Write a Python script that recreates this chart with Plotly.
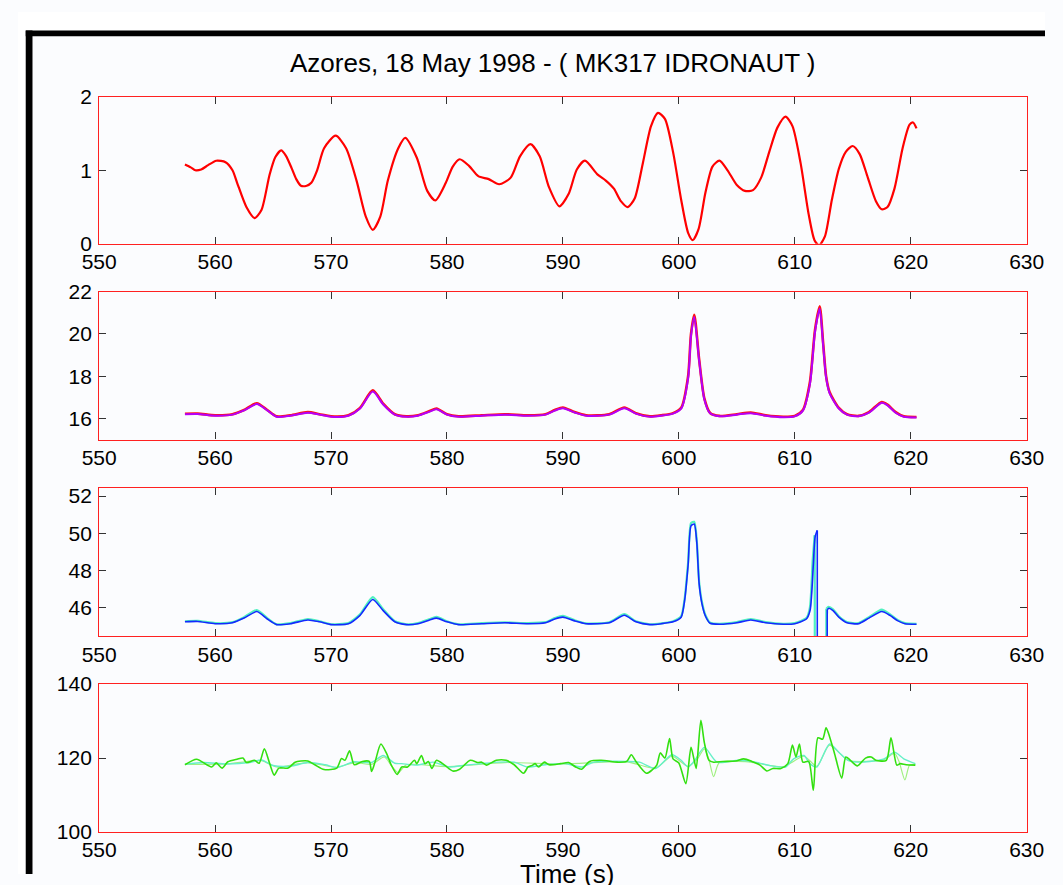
import plotly.graph_objects as go

W, H = 1063, 885

# ---------------- data ----------------
X_TICKS = [550, 560, 570, 580, 590, 600, 610, 620, 630]
TITLE = "Azores, 18 May 1998 - ( MK317 IDRONAUT )"
XLABEL = "Time (s)"

# panel 1 (red)
t1 = [557.4, 557.9, 558.3, 558.8, 559.4, 560.1, 560.9, 561.5, 561.9, 562.7, 563.4, 564.0, 564.7, 565.2,
      565.7, 566.1, 566.6, 567.0, 567.4, 567.9, 568.3, 568.8, 569.4, 570.4, 571.3, 572.2, 573.0, 573.6,
      574.25, 574.9, 575.8, 576.4, 577.4, 578.3, 579.0, 579.9, 580.5, 581.1, 581.9, 582.7, 583.6, 584.5,
      585.5, 586.3, 587.2, 588.0, 588.8, 589.7, 590.5, 591.2, 591.9, 593.0, 593.7, 594.4, 595.0, 595.6,
      596.2, 596.9, 597.6, 598.2, 598.8, 599.5, 600.2, 600.8, 601.2, 601.7, 602.3, 602.9, 603.5, 604.2,
      605.0, 605.7, 606.4, 607.1, 607.8, 608.5, 609.2, 609.8, 610.5, 611.2, 611.7, 612.1, 612.6, 613.2,
      613.8, 614.4, 615.0, 615.6, 616.3, 617.0, 617.5, 618.0, 618.6, 619.3, 619.9, 620.2, 620.5]
v1 = [1.08, 1.04, 1.00, 1.01, 1.07, 1.13, 1.11, 1.00, 0.83, 0.50, 0.35, 0.46, 0.94, 1.18,
      1.27, 1.20, 1.03, 0.88, 0.79, 0.79, 0.83, 1.00, 1.30, 1.47, 1.30, 0.86, 0.37, 0.19,
      0.37, 0.86, 1.30, 1.44, 1.17, 0.72, 0.59, 0.83, 1.05, 1.15, 1.06, 0.92, 0.88, 0.81,
      0.90, 1.19, 1.355, 1.19, 0.77, 0.51, 0.68, 1.01, 1.13, 0.94, 0.86, 0.75, 0.58, 0.50,
      0.62, 1.10, 1.60, 1.78, 1.70, 1.25, 0.60, 0.15, 0.05, 0.20, 0.70, 1.05, 1.13, 1.00,
      0.80, 0.72, 0.73, 0.90, 1.25, 1.58, 1.73, 1.60, 1.10, 0.40, 0.05, -0.02, 0.10, 0.60,
      1.02, 1.25, 1.33, 1.22, 0.90, 0.58, 0.47, 0.50, 0.75, 1.30, 1.62, 1.65, 1.57]

# panel 2 (red + magenta)
t2 = [557.4, 558.5, 560.0, 561.5, 562.5, 563.6, 564.5, 565.3, 566.5, 568.0, 569.0, 570.0, 571.5, 572.5,
      573.6, 574.5, 575.5, 576.5, 577.5, 578.5, 579.1, 580.0, 581.0, 583.0, 585.0, 587.0, 588.5, 589.3,
      590.0, 591.0, 592.0, 594.0, 595.3, 596.3, 597.5, 598.5, 599.5, 600.2, 600.8, 601.05, 601.33, 601.75,
      602.2, 602.7, 603.5, 605.0, 606.2, 607.5, 609.0, 610.0, 610.7, 611.3, 611.75, 612.15, 612.45, 612.7,
      613.0, 613.8, 614.5, 615.5, 616.4, 617.5, 618.0, 618.7, 619.4, 620.5]
v2a = [16.22, 16.23, 16.15, 16.20, 16.40, 16.72, 16.40, 16.10, 16.15, 16.30, 16.20, 16.10, 16.15, 16.50,
       17.33, 16.70, 16.20, 16.10, 16.15, 16.35, 16.47, 16.20, 16.10, 16.15, 16.20, 16.15, 16.20, 16.40,
       16.52, 16.30, 16.15, 16.20, 16.52, 16.25, 16.10, 16.15, 16.25, 16.50, 18.00, 20.00, 20.90, 18.80,
       16.95, 16.26, 16.12, 16.20, 16.28, 16.15, 16.08, 16.12, 16.40, 17.70, 20.20, 21.30, 19.55, 18.00,
       17.25, 16.50, 16.20, 16.12, 16.30, 16.78, 16.65, 16.30, 16.10, 16.07]
v2b = [16.20, 16.21, 16.13, 16.18, 16.38, 16.68, 16.38, 16.08, 16.13, 16.27, 16.18, 16.08, 16.13, 16.47,
       17.27, 16.66, 16.18, 16.08, 16.13, 16.32, 16.43, 16.18, 16.08, 16.13, 16.18, 16.13, 16.18, 16.37,
       16.48, 16.28, 16.13, 16.18, 16.48, 16.23, 16.08, 16.13, 16.23, 16.46, 17.90, 19.90, 20.80, 18.75,
       16.90, 16.24, 16.10, 16.18, 16.25, 16.13, 16.06, 16.10, 16.37, 17.60, 20.10, 21.20, 19.45, 17.95,
       17.20, 16.47, 16.18, 16.10, 16.27, 16.74, 16.62, 16.27, 16.08, 16.05]

# panel 3 (blue + aquamarine); None separates the sensor dropout near 612 s
t3a = [557.4, 558.5, 560.0, 561.5, 562.5, 563.6, 564.5, 565.3, 566.5, 568.0, 569.0, 570.0, 571.5, 572.5,
       573.6, 574.5, 575.5, 576.5, 577.5, 578.5, 579.1, 580.0, 581.0, 583.0, 585.0, 587.0, 588.5, 589.3,
       590.0, 591.0, 592.0, 594.0, 595.3, 596.3, 597.5, 598.5, 599.5, 600.2, 600.5, 600.8, 601.05, 601.33,
       601.55, 601.75, 602.0, 602.3, 602.7, 603.5, 605.0, 606.2, 607.5, 609.0, 610.0, 611.0, 611.33, 611.6,
       611.75, 611.94, None, 611.94, 611.95, None, 612.78, 612.8, None, 612.8, 612.95, 613.3, 613.8,
       614.5, 615.5, 616.4, 617.5, 618.2, 618.9, 619.5, 620.5]
v3a = [45.25, 45.27, 45.15, 45.20, 45.45, 45.80, 45.40, 45.10, 45.15, 45.35, 45.25, 45.10, 45.15, 45.60,
       46.45, 45.85, 45.25, 45.10, 45.15, 45.35, 45.45, 45.25, 45.10, 45.15, 45.20, 45.15, 45.20, 45.40,
       45.50, 45.30, 45.15, 45.20, 45.60, 45.25, 45.10, 45.15, 45.25, 45.50, 46.40, 48.30, 50.40, 50.50,
       49.50, 47.30, 46.20, 45.55, 45.17, 45.12, 45.20, 45.35, 45.20, 45.12, 45.15, 45.40, 45.90, 48.30,
       49.80, 50.16, None, 50.16, 30.00, None, 30.00, 45.90, None, 45.90, 45.98, 45.85, 45.50,
       45.20, 45.15, 45.45, 45.80, 45.60, 45.30, 45.15, 45.12]
t3b = [557.4, 558.5, 560.0, 561.5, 562.5, 563.6, 564.5, 565.3, 566.5, 568.0, 569.0, 570.0, 571.5, 572.5,
       573.6, 574.5, 575.5, 576.5, 577.5, 578.5, 579.1, 580.0, 581.0, 583.0, 585.0, 587.0, 588.5, 589.3,
       590.0, 591.0, 592.0, 594.0, 595.3, 596.3, 597.5, 598.5, 599.5, 600.2, 600.5, 600.8, 601.05, 601.33,
       601.55, 601.75, 602.0, 602.3, 602.7, 603.5, 605.0, 606.2, 607.5, 609.0, 610.0, 611.0, 611.3, 611.55,
       611.72, None, 611.72, 611.74, None, 612.68, 612.72, None, 612.72, 612.92, 613.3, 613.8,
       614.5, 615.5, 616.4, 617.5, 618.2, 618.9, 619.5, 620.5]
v3b = [45.28, 45.30, 45.18, 45.23, 45.50, 45.88, 45.45, 45.12, 45.18, 45.40, 45.28, 45.12, 45.18, 45.65,
       46.58, 45.92, 45.28, 45.12, 45.18, 45.40, 45.52, 45.28, 45.12, 45.18, 45.22, 45.18, 45.23, 45.45,
       45.57, 45.34, 45.17, 45.23, 45.66, 45.28, 45.12, 45.17, 45.28, 45.55, 46.50, 48.45, 50.55, 50.62,
       49.60, 47.40, 46.30, 45.60, 45.20, 45.14, 45.23, 45.40, 45.23, 45.14, 45.18, 45.45, 46.00, 48.60,
       49.90, None, 49.90, 30.00, None, 30.00, 45.95, None, 45.95, 46.05, 45.92, 45.55,
       45.24, 45.18, 45.50, 45.90, 45.66, 45.34, 45.18, 45.14]

# panel 4 (green family)
t4g = [557.4, 558.4, 559.7, 560.1, 560.6, 561.1, 561.9, 562.4, 562.7, 563.4, 563.8, 564.25, 564.7, 565.1,
       565.5, 566.3, 566.9, 567.4, 568.0, 568.6, 569.4, 570.5, 570.9, 571.2, 571.6, 572.0, 572.7, 573.3,
       573.5, 573.8, 574.3, 574.8, 575.2, 575.7, 576.1, 576.6, 577.2, 577.4, 577.8, 578.1, 578.4, 578.7,
       579.1, 579.8, 580.5, 581.1, 582.0, 582.7, 583.0, 583.4, 584.25, 585.1, 585.8, 586.6, 587.0, 587.4,
       587.6, 587.9, 588.4, 588.8, 589.8, 590.5, 591.1, 591.6, 592.3, 593.3, 594.7, 595.5, 595.9, 596.3,
       597.2, 597.7, 598.1, 598.4, 598.8, 599.2, 599.5, 600.0, 600.6, 601.05, 601.3, 601.5, 601.9, 602.2,
       602.6, 603.0, 603.8, 604.9, 605.6, 606.3, 607.0, 607.6, 608.1, 608.8, 609.4, 609.8, 610.1, 610.4,
       610.7, 611.2, 611.6, 612.0, 612.4, 612.7, 612.9, 613.4, 614.05, 614.4, 614.8, 615.4, 616.1, 616.6,
       617.0, 617.9, 618.3, 618.8, 619.1, 619.6, 620.4]
v4g = [118.2, 119.7, 117.6, 118.7, 117.3, 119.0, 119.7, 120.0, 118.8, 119.4, 118.6, 122.5, 118.6, 115.4,
       117.3, 117.3, 118.9, 119.2, 119.2, 118.2, 116.9, 117.3, 119.9, 119.4, 122.0, 118.2, 119.1, 119.1,
       116.4, 119.0, 123.8, 121.2, 118.1, 115.6, 117.6, 117.6, 119.4, 118.5, 120.7, 118.5, 119.1, 117.2,
       119.4, 118.1, 116.5, 117.0, 119.4, 118.8, 118.9, 118.1, 119.4, 119.4, 118.2, 115.9, 117.6, 118.1,
       118.5, 117.6, 118.9, 118.2, 118.5, 118.8, 117.6, 117.0, 119.1, 119.4, 118.9, 119.1, 120.9, 119.1,
       115.9, 116.8, 118.1, 121.4, 120.0, 125.3, 119.8, 118.7, 113.1, 122.9, 119.8, 117.2, 130.2, 124.2,
       119.4, 118.9, 119.1, 119.2, 119.8, 119.1, 118.1, 116.5, 117.2, 117.2, 118.5, 123.5, 120.3, 123.8,
       118.9, 119.1, 111.3, 125.5, 125.1, 128.2, 126.8, 121.6, 114.6, 120.3, 119.4, 117.9, 120.0, 120.3,
       119.4, 119.4, 125.5, 118.1, 118.5, 118.2, 118.1]
t4a = [557.4, 559.0, 561.0, 563.0, 564.0, 565.0, 566.5, 568.0, 569.5, 570.5, 572.0, 573.5, 574.5, 575.5,
       576.1, 577.4, 578.8, 580.2, 581.6, 583.0, 584.4, 585.8, 586.9, 588.5, 590.2, 591.6, 592.7, 595.5,
       596.6, 598.0, 599.4, 600.2, 600.8, 601.4, 602.2, 603.3, 605.2, 606.6, 608.0, 609.2, 609.9, 610.8,
       611.3, 611.9, 613.0, 613.8, 614.6, 615.8, 617.7, 618.6, 619.4, 620.4]
v4a = [118.3, 118.8, 118.4, 118.8, 119.5, 118.0, 117.8, 118.8, 118.2, 117.5, 119.0, 118.8, 120.7, 118.6,
       118.5, 118.1, 118.9, 117.6, 118.1, 118.5, 118.9, 118.9, 117.6, 118.2, 118.5, 117.6, 118.9, 119.1,
       118.9, 117.2, 120.9, 119.4, 117.6, 119.5, 122.9, 118.9, 119.4, 118.9, 117.9, 117.6, 119.8, 120.7,
       118.5, 117.6, 123.8, 121.6, 119.4, 118.9, 119.8, 121.6, 119.8, 118.5]
t4p = [557.4, 561.0, 564.0, 565.3, 568.0, 570.5, 572.0, 573.5, 574.6, 575.2, 575.8, 576.5, 580.0, 585.0,
       590.0, 595.5, 598.0, 599.4, 600.8, 601.6, 602.2, 602.6, 603.0, 603.5, 606.0, 609.0, 610.8, 611.9,
       613.0, 614.6, 617.7, 618.6, 619.0, 619.5, 619.9, 620.4]
v4p = [118.3, 118.4, 119.3, 117.6, 118.8, 117.5, 118.8, 118.3, 120.3, 118.0, 116.0, 118.2, 117.7, 118.8,
       118.4, 119.0, 117.3, 120.5, 117.8, 119.8, 122.5, 119.5, 115.0, 118.8, 119.0, 117.7, 120.5, 117.8,
       123.5, 119.4, 119.6, 121.3, 119.0, 114.1, 118.1, 118.3]

Y_TICKS = [[0, 1, 2], [16, 18, 20, 22], [46, 48, 50, 52], [100, 120, 140]]
Y_RANGES = [[0, 2], [15.0, 22.0], [44.47, 52.42], [100, 140]]

# ---------------- layout helpers ----------------
def px_x(p):
    return p / W

def px_y(p):
    return 1 - p / H

X0, X1 = 84, 1044
PANELS = [(87, 238), (287, 439), (489, 641), (690, 842)]

BG = "#fbfcfe"
FONT = "Liberation Sans, Arial, Helvetica, sans-serif"

fig = go.Figure()

def add(x, y, k, color, width, shape="spline", smoothing=0.7):
    sfx = "" if k == 1 else str(k)
    fig.add_trace(go.Scatter(x=x, y=y, mode="lines", xaxis="x" + sfx, yaxis="y" + sfx,
                             connectgaps=False,
                             line=dict(color=color, width=width, shape=shape, smoothing=smoothing),
                             showlegend=False, hoverinfo="skip"))

add(t1, v1, 1, "#ff0000", 2.2)
add(t2, v2a, 2, "#ff1010", 2.6)
add(t2, v2b, 2, "#b400f8", 2.0)
add(t3b, v3b, 3, "#50f0c0", 2.2, "spline", 0.6)
add(t3a, v3a, 3, "#1428ff", 1.6, "spline", 0.6)
add(t4p, v4p, 4, "#a0f080", 1.2, "spline")
add(t4a, v4a, 4, "#66f0c8", 1.4, "spline")
add(t4g, v4g, 4, "#33e010", 1.6, "spline")

axcommon = dict(showline=True, linecolor="#ff2020", linewidth=1.2, mirror="ticks",
                ticks="inside", ticklen=7, tickwidth=1.2, tickcolor="#333333",
                showgrid=False, zeroline=False,
                tickfont=dict(family=FONT, size=21, color="#000000"))

layout = dict(width=W, height=H, margin=dict(l=0, r=0, t=0, b=0),
              paper_bgcolor=BG, plot_bgcolor=BG, showlegend=False)

for i, (top, bot) in enumerate(PANELS):
    k = i + 1
    sfx = "" if k == 1 else str(k)
    layout["xaxis" + sfx] = dict(axcommon, domain=[px_x(X0), px_x(X1)], range=[550, 630],
                                 tickvals=X_TICKS, ticktext=[str(v) for v in X_TICKS],
                                 anchor="y" + sfx, ticklabelstandoff=-1)
    layout["yaxis" + sfx] = dict(axcommon, domain=[px_y(bot), px_y(top)], range=Y_RANGES[i],
                                 tickvals=Y_TICKS[i], ticktext=[str(v) for v in Y_TICKS[i]],
                                 anchor="x" + sfx, ticklabelstandoff=2)

fig.update_layout(**layout)

# frame: white outer margin, black border bars
fig.add_shape(type="rect", xref="paper", yref="paper", x0=0, x1=1, y0=px_y(19), y1=1,
              fillcolor="#ffffff", line_width=0, layer="below")
fig.add_shape(type="rect", xref="paper", yref="paper", x0=0, x1=px_x(8), y0=0, y1=1,
              fillcolor="#ffffff", line_width=0, layer="below")
fig.add_shape(type="rect", xref="paper", yref="paper", x0=px_x(8), x1=1, y0=px_y(25), y1=px_y(19),
              fillcolor="#000000", line_width=0)
fig.add_shape(type="rect", xref="paper", yref="paper", x0=px_x(8), x1=px_x(15), y0=0, y1=px_y(19),
              fillcolor="#000000", line_width=0)

fig.add_annotation(text=TITLE, xref="paper", yref="paper", x=px_x(553), y=px_y(52),
                   xanchor="center", yanchor="middle", showarrow=False,
                   font=dict(family=FONT, size=26, color="#000000"))
fig.add_annotation(text=XLABEL, xref="paper", yref="paper", x=px_x(568), y=px_y(868),
                   xanchor="center", yanchor="top", showarrow=False,
                   font=dict(family=FONT, size=26, color="#000000"))

fig.write_html("out.html")
